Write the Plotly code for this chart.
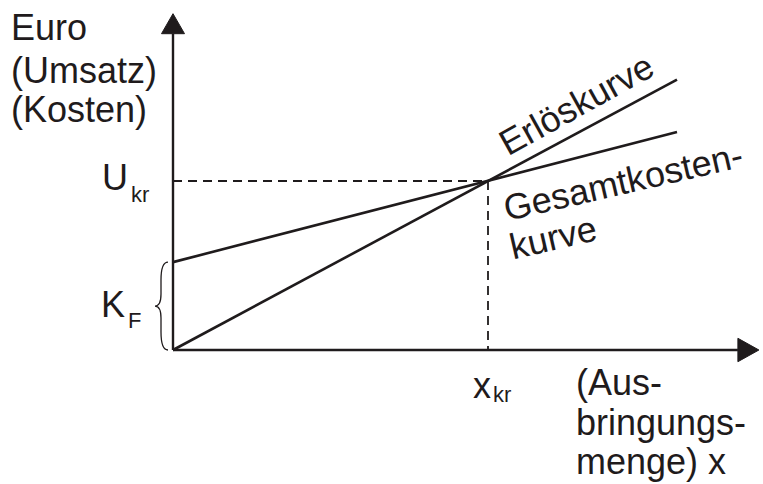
import plotly.graph_objects as go

# ---------------- data ----------------
x_points = [0, 160]            # Ausbringungsmenge (Start, Ende der Kurven)
revenue = [0, 160]             # Erlöskurve
total_cost = [52, 129]         # Gesamtkostenkurve (beginnt bei K_F)
x_kr = 100                     # kritische Menge
U_kr = 100                     # kritischer Umsatz
K_F = 52                       # Fixkosten
x_axis_end = 186               # Pfeilspitze x-Achse
y_axis_end = 199               # Pfeilspitze y-Achse

# ---------------- layout helpers ----------------
W, H = 763, 484
ORIGIN_PX = (173, 350)
SX, SY = 3.15, 1.69            # pixels per data unit
X0 = -ORIGIN_PX[0] / SX
X1 = X0 + W / SX
Y0 = -(H - ORIGIN_PX[1]) / SY
Y1 = Y0 + H / SY

def px_x(p):
    return X0 + p / SX

def px_y(p):
    return Y1 - p / SY

INK = "#1f1b1c"
FONT = "Liberation Sans, Arial, Helvetica, sans-serif"
FS = 36
FS_SUB = 22

fig = go.Figure()

# Kurven
fig.add_trace(go.Scatter(x=x_points, y=revenue, mode="lines",
                         line=dict(color=INK, width=2.6), hoverinfo="skip"))
fig.add_trace(go.Scatter(x=x_points, y=total_cost, mode="lines",
                         line=dict(color=INK, width=2.6), hoverinfo="skip"))
# gestrichelte Hilfslinien
fig.add_trace(go.Scatter(x=[0, x_kr, x_kr], y=[U_kr, U_kr, 0], mode="lines",
                         line=dict(color=INK, width=1.8, dash="9px,6px"),
                         hoverinfo="skip"))

shapes = []
# Achsen
ah_len_x = 21 / SX
ah_half_x = 11.7 / SY
ah_len_y = 20 / SY
ah_half_y = 11.5 / SX
shapes.append(dict(type="line", x0=0, y0=0, x1=0, y1=y_axis_end - ah_len_y,
                   line=dict(color=INK, width=2.4), layer="above"))
shapes.append(dict(type="line", x0=0, y0=0, x1=x_axis_end - ah_len_x, y1=0,
                   line=dict(color=INK, width=2.4), layer="above"))
shapes.append(dict(type="path",
                   path=f"M {-ah_half_y} {y_axis_end - ah_len_y} L 0 {y_axis_end} L {ah_half_y} {y_axis_end - ah_len_y} Z",
                   fillcolor=INK, line=dict(color=INK, width=1), layer="above"))
shapes.append(dict(type="path",
                   path=f"M {x_axis_end - ah_len_x} {-ah_half_x} L {x_axis_end} 0 L {x_axis_end - ah_len_x} {ah_half_x} Z",
                   fillcolor=INK, line=dict(color=INK, width=1), layer="above"))

# geschweifte Klammer für K_F
bx_r = -5 / SX      # rechter Rand (nahe Achse)
bx_m = -12 / SX     # Mitte des Bogens
bx_t = -18 / SX     # Spitze
cy = K_F / 2
c = 6 / SY
brace = (f"M {bx_r} {K_F} Q {bx_m} {K_F} {bx_m} {K_F - 3*c} "
         f"L {bx_m} {cy + 2*c} Q {bx_m} {cy} {bx_t} {cy} "
         f"Q {bx_m} {cy} {bx_m} {cy - 2*c} "
         f"L {bx_m} {3*c} Q {bx_m} 0 {bx_r} 0")
shapes.append(dict(type="path", path=brace, line=dict(color=INK, width=1.3),
                   layer="above"))

ann = []

def label(text, px, py, size=FS, xanchor="left", angle=0):
    ann.append(dict(text=text, x=px_x(px), y=px_y(py), xref="x", yref="y",
                    showarrow=False, xanchor=xanchor, yanchor="middle",
                    borderpad=0, textangle=angle,
                    font=dict(family=FONT, size=size, color=INK)))

# y-Achsenbeschriftung
label("Euro", 10, 27)
label("(Umsatz)", 10, 70)
label("(Kosten)", 10, 109)
# U_kr und K_F
label("U", 101, 177)
label("kr", 130, 194, size=FS_SUB)
label("K", 100, 304)
label("F", 127, 320, size=FS_SUB)
# x_kr
label("x", 472, 385)
label("kr", 492, 394, size=FS_SUB)
# x-Achsenbeschriftung
label("(Aus-", 575, 382)
label("bringungs-", 575, 422)
label("menge) x", 575, 461)
# Kurvenbeschriftungen
label("Erlöskurve", 576, 104, xanchor="center", angle=-29)
label("Gesamtkosten-", 623, 181, xanchor="center", angle=-13)
label("kurve", 553, 237, xanchor="center", angle=-13)

fig.update_layout(
    width=W, height=H,
    margin=dict(l=0, r=0, t=0, b=0),
    paper_bgcolor="white", plot_bgcolor="white",
    showlegend=False,
    hovermode=False,
    xaxis=dict(range=[X0, X1], visible=False, fixedrange=True),
    yaxis=dict(range=[Y0, Y1], visible=False, fixedrange=True),
    shapes=shapes, annotations=ann,
)

fig.write_html("out.html",
               config={"displayModeBar": False, "staticPlot": True},
               post_script="document.body.style.margin='0px';")
